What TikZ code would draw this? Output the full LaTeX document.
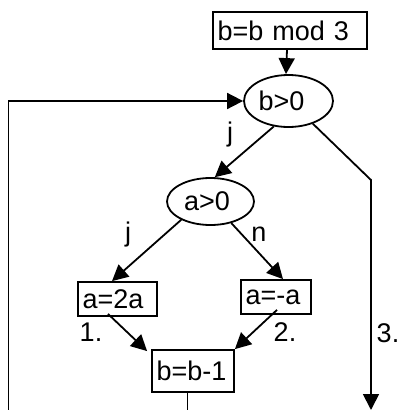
\documentclass[tikz,border=0pt]{standalone}
\usepackage{fontspec}
\setmainfont{Liberation Sans}
\usetikzlibrary{arrows.meta,calc,shapes.geometric}
\newcommand\figfont{\fontsize{27}{32}\selectfont}
\tikzset{
 ln/.style={line width=1.8pt},
 arr/.style={ln, -{Triangle[length=16pt,width=16pt]}},
 box/.style={draw, ln, inner xsep=4.5pt, inner ysep=0pt, align=left, font=\figfont},
 ell/.style={draw, ln, ellipse, inner sep=0pt, align=left, font=\figfont},
 lab/.style={inner sep=0pt, anchor=base, font=\figfont}
}
\begin{document}
\begin{tikzpicture}[x=1pt,y=-1pt]
\useasboundingbox (0,0) rectangle (399,410);
\node[box, text width=145pt, minimum height=37pt] (mod) at (290,30.5) {b=b mod 3};
\node[ell, text width=60pt, minimum width=89pt, minimum height=52pt] (bgt) at (288.5,101) {b>0};
\node[ell, text width=53pt, minimum width=87pt, minimum height=47pt] (agt) at (210.5,201.5) {a>0};
\node[box, text width=70pt, minimum height=34pt] (a2) at (117.5,299) {a=2a};
\node[box, text width=61pt, minimum height=34pt] (am) at (276,297) {a=-a};
\node[box, text width=73pt, minimum height=42pt] (bm) at (193,371) {b=b-1};

\node[lab] (lj1) at (230,141) {j};
\node[lab] (lj2) at (128,241) {j};
\node[lab] (ln1) at (259,241) {n};
\node[lab] (l1) at (91,341) {1.};
\node[lab] (l2) at (285,341) {2.};
\node[lab] (l3) at (388,342) {3.};

\coordinate (lb) at (8.5,410);
\coordinate (bb) at (187.5,410);
\coordinate (r1) at (371,180);
\coordinate (r2) at (371,410);

\draw[arr] ($(mod.south)+(-3,0)$) -- ($(bgt.north)+(-2.5,0)$);
\draw[arr] (bgt.240) -- (agt.80);
\draw[arr] (bgt.317) -- (r1) -- (r2);
\draw[arr] (agt.212) -- ($(a2.north)+(-5.5,0)$);
\draw[arr] (agt.314) -- ($(am.north)+(7,0)$);
\draw[arr] ($(a2.south)+(-9.5,-3)$) -- ($(bm.north west)+(-4,2)$);
\draw[arr] ($(am.south)+(1,-5)$) -- (bm.north east);
\draw[ln] ($(bm.south)+(-5.5,0)$) -- (bb);
\draw[arr] (lb) |- (bgt.west);
\end{tikzpicture}
\end{document}
